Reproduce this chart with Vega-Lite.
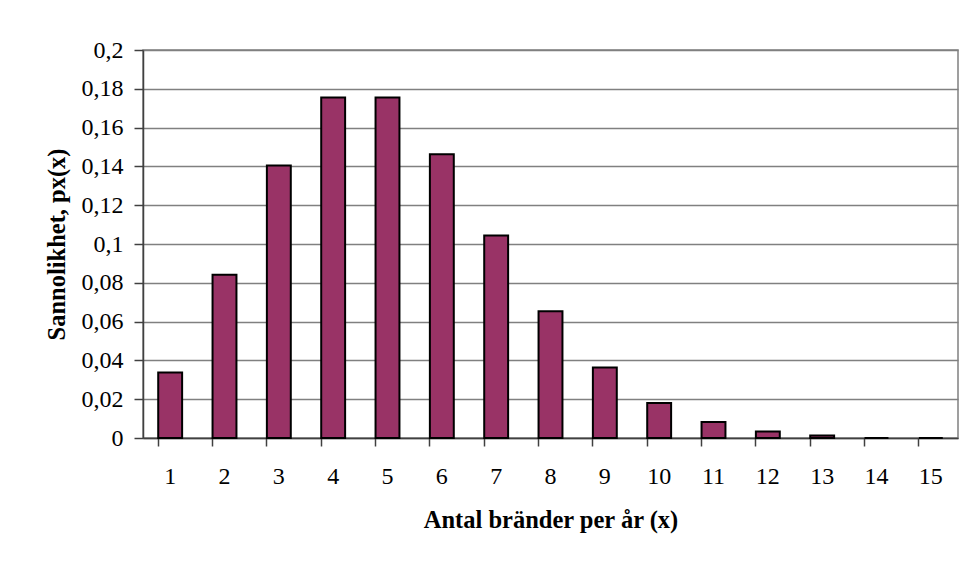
{
  "$schema": "https://vega.github.io/schema/vega-lite/v6.json",
  "width": 815,
  "height": 388,
  "autosize": {"type": "none"},
  "padding": {"left": 143, "top": 50, "right": 8, "bottom": 128},
  "background": "white",
  "config": {
    "locale": {"number": {"decimal": ",", "thousands": " ", "grouping": [3], "currency": ["", " kr"]}},
    "view": {"stroke": "#808080", "strokeWidth": 1.5},
    "font": "Liberation Serif",
    "axis": {"labelFont": "Liberation Serif", "titleFont": "Liberation Serif", "labelColor": "black", "titleColor": "black"}
  },
  "data": {
    "values": [
      {"x": 1, "p": 0.0337},
      {"x": 2, "p": 0.0842},
      {"x": 3, "p": 0.1404},
      {"x": 4, "p": 0.1755},
      {"x": 5, "p": 0.1755},
      {"x": 6, "p": 0.1462},
      {"x": 7, "p": 0.1044},
      {"x": 8, "p": 0.0653},
      {"x": 9, "p": 0.0363},
      {"x": 10, "p": 0.0181},
      {"x": 11, "p": 0.0082},
      {"x": 12, "p": 0.0034},
      {"x": 13, "p": 0.0013},
      {"x": 14, "p": 0},
      {"x": 15, "p": 0}
    ]
  },
  "mark": {"type": "bar", "color": "#993366", "stroke": "black", "strokeWidth": 2},
  "encoding": {
    "x": {
      "field": "x",
      "type": "ordinal",
      "sort": "ascending",
      "scale": {"paddingInner": 0.56, "paddingOuter": 0.28},
      "axis": {
        "title": "Antal bränder per år (x)",
        "titleFontSize": 24.5,
        "titleFontWeight": "bold",
        "titlePadding": 20,
        "labelFontSize": 24,
        "labelAngle": 0,
        "labelPadding": 18,
        "bandPosition": 0,
        "ticks": true,
        "tickSize": 8,
        "tickColor": "#404040",
        "tickWidth": 1.5,
        "domainColor": "#404040",
        "domainWidth": 1.5,
        "grid": false
      }
    },
    "y": {
      "field": "p",
      "type": "quantitative",
      "scale": {"domain": [0, 0.2], "nice": false},
      "axis": {
        "title": "Sannolikhet, px(x)",
        "titleFontSize": 24.5,
        "titleFontWeight": "bold",
        "titlePadding": 12,
        "values": [0, 0.02, 0.04, 0.06, 0.08, 0.1, 0.12, 0.14, 0.16, 0.18, 0.2],
        "format": ".2~f",
        "labelFontSize": 24,
        "labelPadding": 11,
        "tickSize": 9,
        "tickColor": "#404040",
        "tickWidth": 1.5,
        "domainColor": "#404040",
        "domainWidth": 1.5,
        "grid": true,
        "gridColor": "#808080",
        "gridWidth": 1.5
      }
    }
  }
}
